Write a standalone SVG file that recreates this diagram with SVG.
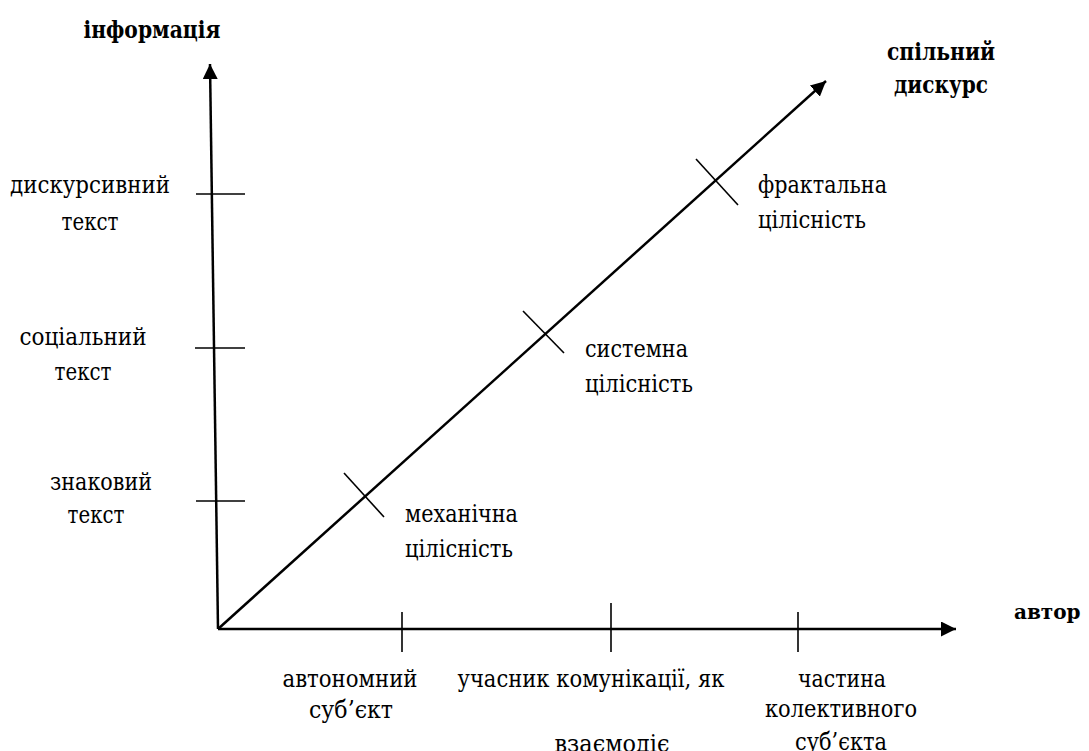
<svg xmlns="http://www.w3.org/2000/svg" width="1089" height="751" viewBox="0 0 1089 751">
<style>
text{font-family:'DejaVu Serif','Noto Serif','Liberation Serif',serif;font-size:24px;fill:#000}
.b{font-weight:bold}
.ax{stroke:#000;stroke-width:2.5;fill:none}
.tk{stroke:#000;stroke-width:1.6;fill:none}
.m{text-anchor:middle}
</style>
<defs>
<marker id="arr" viewBox="0 0 10 10" refX="10" refY="5" markerWidth="6" markerHeight="6" markerUnits="strokeWidth" orient="auto">
<path d="M0,0 L10,5 L0,10 Z" fill="#000"/>
</marker>
</defs>
<rect width="1089" height="751" fill="#fff"/>
<g id="connectors">
<line class="ax" x1="218" y1="629" x2="210" y2="64" marker-end="url(#arr)"/>
<line class="ax" x1="218" y1="629" x2="956" y2="629" marker-end="url(#arr)"/>
<line class="ax" x1="218" y1="629" x2="826" y2="81" marker-end="url(#arr)"/>
</g>
<g id="axis-information">
<text class="b m" x="152" y="38" textLength="137" lengthAdjust="spacingAndGlyphs">інформація</text>
</g>
<g id="axis-discourse">
<text class="b" x="887" y="60" textLength="108" lengthAdjust="spacingAndGlyphs">спільний</text>
<text class="b" x="894" y="93" textLength="94" lengthAdjust="spacingAndGlyphs">дискурс</text>
</g>
<g id="axis-author">
<text class="b" x="1014" y="619" style="font-size:20px">автор</text>
</g>
<g id="tick-discursive">
<line class="tk" x1="196" y1="194" x2="245" y2="194"/>
<text class="m" x="90" y="193" textLength="160" lengthAdjust="spacingAndGlyphs">дискурсивний</text>
<text class="m" x="90" y="230" textLength="57" lengthAdjust="spacingAndGlyphs">текст</text>
</g>
<g id="tick-social">
<line class="tk" x1="195" y1="348" x2="245" y2="348"/>
<text class="m" x="83" y="345" textLength="127" lengthAdjust="spacingAndGlyphs">соціальний</text>
<text class="m" x="83" y="380" textLength="57" lengthAdjust="spacingAndGlyphs">текст</text>
</g>
<g id="tick-sign">
<line class="tk" x1="196" y1="501" x2="245" y2="501"/>
<text class="m" x="101" y="490" textLength="102" lengthAdjust="spacingAndGlyphs">знаковий</text>
<text class="m" x="96" y="523" textLength="57" lengthAdjust="spacingAndGlyphs">текст</text>
</g>
<g id="tick-mechanical">
<line class="tk" x1="344" y1="473" x2="384" y2="517"/>
<text x="405" y="522" textLength="113" lengthAdjust="spacingAndGlyphs">механічна</text>
<text x="405" y="557" textLength="108" lengthAdjust="spacingAndGlyphs">цілісність</text>
</g>
<g id="tick-systemic">
<line class="tk" x1="523" y1="311" x2="564" y2="353"/>
<text x="585" y="357" textLength="103" lengthAdjust="spacingAndGlyphs">системна</text>
<text x="585" y="392" textLength="108" lengthAdjust="spacingAndGlyphs">цілісність</text>
</g>
<g id="tick-fractal">
<line class="tk" x1="696" y1="159" x2="738" y2="205"/>
<text x="758" y="193" textLength="129" lengthAdjust="spacingAndGlyphs">фрактальна</text>
<text x="758" y="228" textLength="108" lengthAdjust="spacingAndGlyphs">цілісність</text>
</g>
<g id="tick-autonomous">
<line class="tk" x1="402" y1="612" x2="402" y2="652"/>
<text class="m" x="350" y="687" textLength="135" lengthAdjust="spacingAndGlyphs">автономний</text>
<text class="m" x="351" y="718" textLength="84" lengthAdjust="spacingAndGlyphs">суб’єкт</text>
</g>
<g id="tick-participant">
<line class="tk" x1="611" y1="603" x2="611" y2="652"/>
<text class="m" x="591" y="687" textLength="267" lengthAdjust="spacingAndGlyphs">учасник комунікації, як</text>
<text class="m" x="612" y="752" textLength="115" lengthAdjust="spacingAndGlyphs">взаємодіє</text>
</g>
<g id="tick-collective">
<line class="tk" x1="798" y1="612" x2="798" y2="652"/>
<text class="m" x="842" y="687" textLength="88" lengthAdjust="spacingAndGlyphs">частина</text>
<text class="m" x="841" y="717" textLength="152" lengthAdjust="spacingAndGlyphs">колективного</text>
<text class="m" x="841" y="750" textLength="92" lengthAdjust="spacingAndGlyphs">суб’єкта</text>
</g>
</svg>
